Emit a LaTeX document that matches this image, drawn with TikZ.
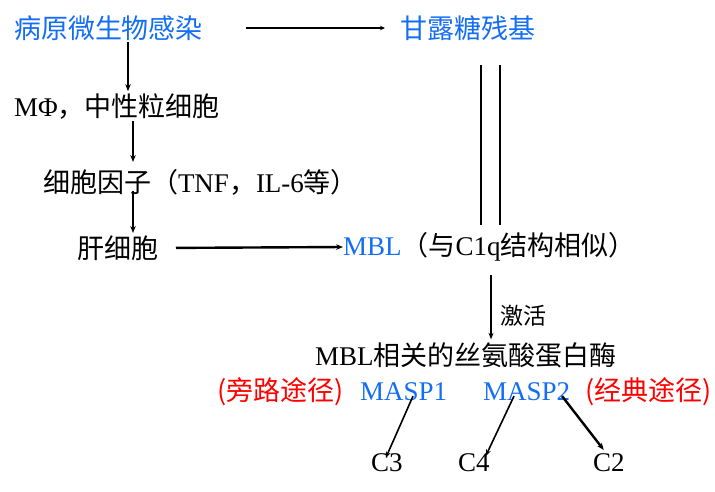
\documentclass[tikz,border=0pt]{standalone}
\usepackage{fontspec}
\setmainfont{Liberation Serif}
\newfontfamily\cjk{Noto Sans CJK SC}
\usetikzlibrary{arrows.meta,calc}
\definecolor{tblue}{RGB}{20,110,245}
\definecolor{tred}{RGB}{255,0,0}
\begin{document}
\begin{tikzpicture}[x=1pt,y=-1pt,
  lbl/.style={anchor=west,inner sep=0pt,outer sep=0pt,font=\fontsize{27}{30}\selectfont},
  thick arr/.style={line width=2.4pt,-{Stealth[length=7pt,width=5.5pt]}},
  mid arr/.style={line width=1.6pt,-{Stealth[length=6.5pt,width=5pt]}},
  thin arr/.style={line width=1.6pt,-{Stealth[length=5pt,width=4.5pt]}},
  dline/.style={line width=1.1pt}]
\useasboundingbox (0,0) rectangle (715,491);
% column coordinates
\coordinate (colA) at (128,0);
\coordinate (colB) at (133,0);
\coordinate (dl1) at (481,0);
\coordinate (dl2) at (500,0);
\coordinate (colC) at (491,0);
% nodes
\node[lbl,text=tblue] (pathogen) at (14,28) {\cjk 病原微生物感染};
\node[lbl,text=tblue] (mannose) at (400,28) {\cjk 甘露糖残基};
\node[lbl] (mphi) at (14,107) {MΦ{\cjk ，中性粒细胞}};
\node[lbl] (cyto) at (43,182) {{\cjk 细胞因子（}TNF{\cjk ，}IL-6{\cjk 等）}};
\node[lbl] (liver) at (77,248) {\cjk 肝细胞};
\node[lbl] (mbl) at (343,247) {\textcolor{tblue}{MBL}{\cjk （与}C1q{\cjk 结构相似）}};
\node[lbl] (enzyme) at (315,355) {MBL{\cjk 相关的丝氨酸蛋白酶}};
\node[lbl,text=tred] (alt) at (217,392) {\cjk (旁路途径)};
\node[lbl,text=tblue] (masp1) at (360,392) {MASP1};
\node[lbl,text=tblue] (masp2) at (483,392) {MASP2};
\node[lbl,text=tred] (classic) at (585,392) {\cjk (经典途径)};
\node[lbl] (c3) at (371,463) {C3};
\node[lbl] (c4) at (458,463) {C4};
\node[lbl] (c2) at (593,463) {C2};
\node[anchor=west,inner sep=0pt,font=\fontsize{23}{26}\selectfont\cjk] (act) at (500,316) {激活};
% connectors
\draw[thin arr,shorten <=43pt,shorten >=15pt] (pathogen.east) -- (mannose.west);
\draw[thick arr,shorten <=1.5pt,shorten >=3pt] (pathogen.south -| colA) -- (mphi.north -| colA);
\draw[thick arr,shorten <=1pt,shorten >=7pt] (mphi.south -| colB) -- (cyto.north -| colB);
\draw[thick arr,shorten <=-4pt,shorten >=2.5pt] (cyto.south -| colB) -- (liver.north -| colB);
\draw[thick arr,shorten <=18pt] (liver.east) -- (mbl.west);
\draw[dline,shorten <=24.5pt,shorten >=8pt] (mannose.south -| dl1) -- (mbl.north -| dl1);
\draw[dline,shorten <=24.5pt,shorten >=8pt] (mannose.south -| dl2) -- (mbl.north -| dl2);
\draw[mid arr,shorten <=14pt,shorten >=3pt] (mbl.south -| colC) -- (enzyme.north -| colC);
\draw[mid arr] ($(masp1.south)+(9.5,-5)$) -- ($(c3.north)+(-1,4)$);
\draw[mid arr] ($(masp2.south)+(-12.5,-5)$) -- ($(c4.north)+(12,2)$);
\draw[thick arr] ($(masp2.south)+(35.5,-5)$) -- ($(c2.north)+(-5,-4)$);
\end{tikzpicture}
\end{document}
